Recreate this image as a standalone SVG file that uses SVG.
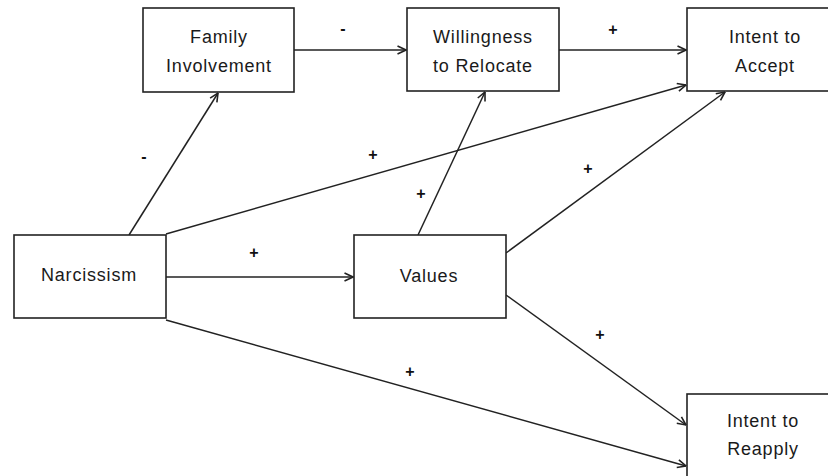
<svg xmlns="http://www.w3.org/2000/svg" width="828" height="476" viewBox="0 0 828 476">
<defs>
<marker id="arr" viewBox="0 0 10 10" refX="9.5" refY="5" markerWidth="10" markerHeight="10" markerUnits="userSpaceOnUse" orient="auto">
<polyline points="1,1 9.5,5 1,9" fill="none" stroke="#222" stroke-width="1.6"/>
</marker>
</defs>
<style>
.box{fill:#fff;stroke:#222;stroke-width:1.6}
.t{font-family:"Liberation Sans",Arial,sans-serif;font-size:18px;fill:#1a1a1a;text-anchor:middle;letter-spacing:0.8px}
.c{fill:none;stroke:#222;stroke-width:1.5;marker-end:url(#arr)}
.l{font-family:"Liberation Sans",Arial,sans-serif;font-size:16px;font-weight:bold;fill:#111;text-anchor:middle}
</style>
<rect width="828" height="476" fill="#fff"/>
<g id="connectors">
<line class="c" x1="294" y1="50" x2="406" y2="50"/>
<line class="c" x1="559" y1="50" x2="686" y2="50"/>
<line class="c" x1="129" y1="235" x2="218" y2="93"/>
<line class="c" x1="166" y1="234" x2="686" y2="85"/>
<line class="c" x1="166" y1="277" x2="353" y2="277"/>
<line class="c" x1="166" y1="320" x2="686" y2="466"/>
<line class="c" x1="418" y1="235" x2="485" y2="92"/>
<line class="c" x1="506" y1="253" x2="725" y2="92"/>
<line class="c" x1="506" y1="295" x2="686" y2="425"/>
<text class="l" x="343" y="34">-</text>
<text class="l" x="613" y="35">+</text>
<text class="l" x="144" y="162">-</text>
<text class="l" x="373" y="160">+</text>
<text class="l" x="254" y="258">+</text>
<text class="l" x="410" y="377">+</text>
<text class="l" x="421" y="199">+</text>
<text class="l" x="588" y="174">+</text>
<text class="l" x="600" y="340">+</text>
</g>
<g id="family">
<rect class="box" x="143" y="8" width="151" height="84"/>
<text class="t" x="219" y="43">Family</text>
<text class="t" x="219" y="72">Involvement</text>
</g>
<g id="willingness">
<rect class="box" x="407" y="8" width="152" height="83"/>
<text class="t" x="483" y="43">Willingness</text>
<text class="t" x="483" y="72">to Relocate</text>
</g>
<g id="accept">
<rect class="box" x="687" y="8" width="156" height="83"/>
<text class="t" x="765" y="43">Intent to</text>
<text class="t" x="765" y="72">Accept</text>
</g>
<g id="narcissism">
<rect class="box" x="14" y="235" width="152" height="83"/>
<text class="t" x="89" y="281">Narcissism</text>
</g>
<g id="values">
<rect class="box" x="354" y="235" width="152" height="83"/>
<text class="t" x="429" y="282">Values</text>
</g>
<g id="reapply">
<rect class="box" x="687" y="394" width="156" height="100"/>
<text class="t" x="763" y="427">Intent to</text>
<text class="t" x="763" y="455">Reapply</text>
</g>
</svg>
